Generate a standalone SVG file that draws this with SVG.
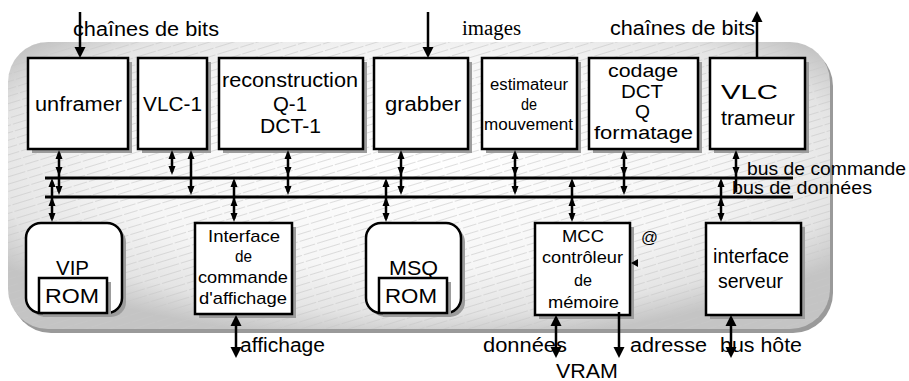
<svg xmlns="http://www.w3.org/2000/svg" xmlns:xlink="http://www.w3.org/1999/xlink" width="909" height="381" viewBox="0 0 909 381">
<style>
.box{fill:#fff;stroke:#000;stroke-width:2.5}
.sh{fill:#9c9c9c}
text{font-family:"Liberation Sans",Arial,sans-serif;font-size:20px;fill:#000}
.s{font-size:16px}
.m{font-size:17px}
.c{font-size:18px}
.serif{font-family:"Liberation Serif","Times New Roman",serif;font-size:20px}
.bus{stroke:#000;stroke-width:3}
.ln{stroke:#000;stroke-width:2.5;fill:none}
</style>
<defs>
<radialGradient id="pg" cx="0.5" cy="0.42" r="0.62">
<stop offset="0" stop-color="#ffffff"/>
<stop offset="0.6" stop-color="#f6f6f6"/>
<stop offset="0.85" stop-color="#e4e4e4"/>
<stop offset="1" stop-color="#c4c4c4"/>
</radialGradient>
<pattern id="hatch" width="40" height="7" patternUnits="userSpaceOnUse" patternTransform="rotate(-17)">
<line x1="0" y1="3.5" x2="40" y2="3.5" stroke="#c8c8c8" stroke-width="0.6" stroke-dasharray="14 2"/>
</pattern>
<path id="d" d="M0,0 L-3.5,-9 L3.5,-9 Z"/>
<path id="u" d="M0,0 L-3.5,9 L3.5,9 Z"/>
<path id="D" d="M0,0 L-5.5,-11 L5.5,-11 Z"/>
<path id="U" d="M0,0 L-5.5,11 L5.5,11 Z"/>
</defs>
<rect width="909" height="381" fill="#fff"/>
<g id="panel">
<rect x="11" y="46" width="822" height="287" rx="40" fill="#9a9a9a"/>
<rect x="8" y="42" width="822" height="287" rx="40" fill="url(#pg)"/>
<rect x="8" y="42" width="822" height="287" rx="40" fill="url(#hatch)"/>
</g>
<g id="unframer">
<rect class="sh" x="32" y="62" width="100" height="91"/>
<rect class="box" x="28" y="58" width="100" height="91"/>
<text x="35" y="111" textLength="87" lengthAdjust="spacingAndGlyphs">unframer</text>
</g>
<g id="vlc-1">
<rect class="sh" x="142" y="62" width="69" height="91"/>
<rect class="box" x="138" y="58" width="69" height="91"/>
<text x="143" y="111" textLength="59" lengthAdjust="spacingAndGlyphs">VLC-1</text>
</g>
<g id="reconstruction">
<rect class="sh" x="223" y="62" width="144" height="91"/>
<rect class="box" x="219" y="58" width="144" height="91"/>
<text x="222" y="87" textLength="136" lengthAdjust="spacingAndGlyphs">reconstruction</text>
<text x="273" y="111" textLength="34" lengthAdjust="spacingAndGlyphs">Q-1</text>
<text x="260" y="133" textLength="61" lengthAdjust="spacingAndGlyphs">DCT-1</text>
</g>
<g id="grabber">
<rect class="sh" x="378" y="62" width="94" height="91"/>
<rect class="box" x="374" y="58" width="94" height="91"/>
<text x="385" y="111" textLength="76" lengthAdjust="spacingAndGlyphs">grabber</text>
</g>
<g id="estimateur">
<rect class="sh" x="486" y="62" width="95" height="91"/>
<rect class="box" x="482" y="58" width="95" height="91"/>
<text class="s" x="490" y="90" textLength="78" lengthAdjust="spacingAndGlyphs">estimateur</text>
<text class="s" x="521" y="110" textLength="16" lengthAdjust="spacingAndGlyphs">de</text>
<text class="s" x="484" y="130" textLength="89" lengthAdjust="spacingAndGlyphs">mouvement</text>
</g>
<g id="codage">
<rect class="sh" x="593" y="62" width="109" height="91"/>
<rect class="box" x="589" y="58" width="109" height="91"/>
<text class="c" x="608" y="77" textLength="70" lengthAdjust="spacingAndGlyphs">codage</text>
<text class="c" x="621" y="98" textLength="42" lengthAdjust="spacingAndGlyphs">DCT</text>
<text class="c" x="635" y="118" textLength="15" lengthAdjust="spacingAndGlyphs">Q</text>
<text class="c" x="594" y="139" textLength="99" lengthAdjust="spacingAndGlyphs">formatage</text>
</g>
<g id="vlc-trameur">
<rect class="sh" x="714" y="62" width="95" height="91"/>
<rect class="box" x="710" y="58" width="95" height="91"/>
<text x="721" y="99" textLength="57" lengthAdjust="spacingAndGlyphs">VLC</text>
<text x="721" y="125" textLength="74" lengthAdjust="spacingAndGlyphs">trameur</text>
</g>
<g id="vip">
<rect class="sh" x="30" y="227" width="96" height="90" rx="15"/>
<rect class="box" x="26" y="223" width="96" height="90" rx="15" stroke-width="3"/>
<text x="56" y="275" textLength="33" lengthAdjust="spacingAndGlyphs">VIP</text>
<rect class="sh" x="43" y="282" width="68" height="35"/>
<rect class="box" x="39" y="278" width="68" height="35"/>
<text x="45" y="303" textLength="54" lengthAdjust="spacingAndGlyphs">ROM</text>
</g>
<g id="interface-affichage">
<rect class="sh" x="199" y="227" width="97" height="91"/>
<rect class="box" x="195" y="223" width="97" height="91"/>
<text class="m" x="208" y="242" textLength="72" lengthAdjust="spacingAndGlyphs">Interface</text>
<text class="m" x="235" y="262" textLength="17" lengthAdjust="spacingAndGlyphs">de</text>
<text class="m" x="198" y="283" textLength="90" lengthAdjust="spacingAndGlyphs">commande</text>
<text class="m" x="199" y="304" textLength="88" lengthAdjust="spacingAndGlyphs">d'affichage</text>
</g>
<g id="msq">
<rect class="sh" x="370" y="227" width="95" height="90" rx="15"/>
<rect class="box" x="366" y="223" width="95" height="90" rx="15" stroke-width="3"/>
<text x="389" y="275" textLength="49" lengthAdjust="spacingAndGlyphs">MSQ</text>
<rect class="sh" x="383" y="282" width="68" height="35"/>
<rect class="box" x="379" y="278" width="68" height="35"/>
<text x="385" y="303" textLength="52" lengthAdjust="spacingAndGlyphs">ROM</text>
</g>
<g id="mcc">
<rect class="sh" x="539" y="227" width="95" height="92"/>
<rect class="box" x="535" y="223" width="95" height="92"/>
<text class="m" x="562" y="242" textLength="42" lengthAdjust="spacingAndGlyphs">MCC</text>
<text class="m" x="542" y="263" textLength="81" lengthAdjust="spacingAndGlyphs">contrôleur</text>
<text class="m" x="574" y="286" textLength="18" lengthAdjust="spacingAndGlyphs">de</text>
<text class="m" x="548" y="308" textLength="71" lengthAdjust="spacingAndGlyphs">mémoire</text>
<text class="m" x="641" y="243" textLength="17" lengthAdjust="spacingAndGlyphs">@</text>
<path d="M631,263 L638,259 L638,267 Z"/>
</g>
<g id="interface-serveur">
<rect class="sh" x="710" y="227" width="95" height="92"/>
<rect class="box" x="706" y="223" width="95" height="92"/>
<text x="713" y="263" textLength="76" lengthAdjust="spacingAndGlyphs">interface</text>
<text x="718" y="288" textLength="65" lengthAdjust="spacingAndGlyphs">serveur</text>
</g>
<g id="connectors">
<line class="bus" x1="45" y1="178" x2="793" y2="178"/>
<line class="bus" x1="45" y1="197" x2="793" y2="197"/>
<line class="ln" x1="80" y1="12" x2="80" y2="52"/><use xlink:href="#D" x="80" y="58"/>
<line class="ln" x1="428" y1="12" x2="428" y2="52"/><use xlink:href="#D" x="428" y="58"/>
<line class="ln" x1="757" y1="58" x2="757" y2="18"/><use xlink:href="#U" x="757" y="11"/>
<line class="ln" x1="59" y1="153" x2="59" y2="192"/><use xlink:href="#u" x="59" y="150"/><use xlink:href="#d" x="59" y="176"/><use xlink:href="#d" x="59" y="195"/>
<line class="ln" x1="172" y1="153" x2="172" y2="172"/><use xlink:href="#u" x="172" y="150"/><use xlink:href="#d" x="172" y="175"/>
<line class="ln" x1="191" y1="153" x2="191" y2="192"/><use xlink:href="#u" x="191" y="150"/><use xlink:href="#d" x="191" y="195"/>
<line class="ln" x1="288" y1="153" x2="288" y2="192"/><use xlink:href="#u" x="288" y="150"/><use xlink:href="#d" x="288" y="176"/><use xlink:href="#d" x="288" y="195"/>
<line class="ln" x1="401" y1="153" x2="401" y2="192"/><use xlink:href="#u" x="401" y="150"/><use xlink:href="#d" x="401" y="176"/><use xlink:href="#d" x="401" y="195"/>
<line class="ln" x1="515" y1="153" x2="515" y2="192"/><use xlink:href="#u" x="515" y="150"/><use xlink:href="#d" x="515" y="176"/><use xlink:href="#d" x="515" y="195"/>
<line class="ln" x1="624" y1="153" x2="624" y2="192"/><use xlink:href="#u" x="624" y="150"/><use xlink:href="#d" x="624" y="176"/><use xlink:href="#d" x="624" y="195"/>
<line class="ln" x1="736" y1="153" x2="736" y2="192"/><use xlink:href="#u" x="736" y="150"/><use xlink:href="#d" x="736" y="176"/>
<line class="ln" x1="52" y1="182" x2="52" y2="219"/><use xlink:href="#u" x="52" y="178"/><use xlink:href="#u" x="52" y="197"/><use xlink:href="#d" x="52" y="222"/>
<line class="ln" x1="234" y1="182" x2="234" y2="219"/><use xlink:href="#u" x="234" y="178"/><use xlink:href="#u" x="234" y="197"/><use xlink:href="#d" x="234" y="222"/>
<line class="ln" x1="386" y1="182" x2="386" y2="219"/><use xlink:href="#u" x="386" y="178"/><use xlink:href="#u" x="386" y="197"/><use xlink:href="#d" x="386" y="222"/>
<line class="ln" x1="572" y1="182" x2="572" y2="219"/><use xlink:href="#u" x="572" y="178"/><use xlink:href="#u" x="572" y="197"/><use xlink:href="#d" x="572" y="222"/>
<line class="ln" x1="721" y1="182" x2="721" y2="219"/><use xlink:href="#u" x="721" y="178"/><use xlink:href="#u" x="721" y="197"/><use xlink:href="#d" x="721" y="222"/>
<line class="ln" x1="236" y1="320" x2="236" y2="352"/><use xlink:href="#U" x="236" y="315"/><use xlink:href="#D" x="236" y="358"/>
<line class="ln" x1="556" y1="320" x2="556" y2="352"/><use xlink:href="#U" x="556" y="315"/><use xlink:href="#D" x="556" y="358"/>
<line class="ln" x1="619" y1="312" x2="619" y2="352"/><use xlink:href="#D" x="619" y="358"/>
<line class="ln" x1="731" y1="320" x2="731" y2="352"/><use xlink:href="#U" x="731" y="315"/><use xlink:href="#D" x="731" y="358"/>
</g>
<g id="labels">
<text x="73" y="36" textLength="146" lengthAdjust="spacingAndGlyphs">chaînes de bits</text>
<text class="serif" x="462" y="35" textLength="59" lengthAdjust="spacingAndGlyphs">images</text>
<text x="610" y="35" textLength="145" lengthAdjust="spacingAndGlyphs">chaînes de bits</text>
<text class="c" x="747" y="175" textLength="159" lengthAdjust="spacingAndGlyphs">bus de commande</text>
<text class="c" x="732" y="194" textLength="140" lengthAdjust="spacingAndGlyphs">bus de données</text>
<text x="240" y="352" textLength="85" lengthAdjust="spacingAndGlyphs">affichage</text>
<text x="483" y="352" textLength="84" lengthAdjust="spacingAndGlyphs">données</text>
<text x="630" y="352" textLength="77" lengthAdjust="spacingAndGlyphs">adresse</text>
<text x="720" y="352" textLength="82" lengthAdjust="spacingAndGlyphs">bus hôte</text>
<text x="556" y="378" textLength="62" lengthAdjust="spacingAndGlyphs">VRAM</text>
</g>
</svg>
